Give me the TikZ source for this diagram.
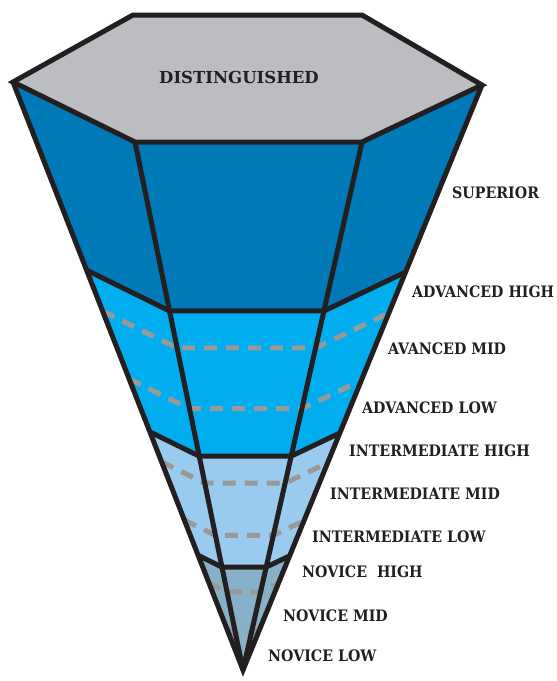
\documentclass[tikz,border=0pt]{standalone}
\usepackage{fontspec}
\setmainfont{DejaVu Serif Condensed}
\newfontfamily\widefont{DejaVu Serif}
\usetikzlibrary{calc}

\definecolor{inkline}{HTML}{231F20}
\definecolor{topgrey}{HTML}{BCBDC0}
\definecolor{supblue}{HTML}{0079B8}
\definecolor{advblue}{HTML}{00AEEF}
\definecolor{intblue}{HTML}{98CBEE}
\definecolor{novblue}{HTML}{86B1C8}
\definecolor{dashgrey}{HTML}{999999}

\begin{document}
\begin{tikzpicture}[x=1pt,y=-1pt,
  edge/.style={
  % The border:
  draw=inkline,
  line width=5pt,
  line join=miter
  },
  sublevel/.style={
  % grey dashes inside a band
  draw=dashgrey,
  line width=5pt,
  dash pattern=on 13pt off 9pt
  },
  level/.style={
  % Font
  font=\bfseries\fontsize{15.8}{18}\selectfont,
  text=inkline,
  anchor=west,
  inner sep=0pt
  }]
  \useasboundingbox (0,0) rectangle (557,681);

  % hexagon and tip
  \coordinate (L) at (13,82);
  \coordinate (TL) at (133,15);
  \coordinate (TR) at (362,15);
  \coordinate (R) at (482,85);
  \coordinate (Q) at (362,142);
  \coordinate (P) at (135,142);
  \coordinate (A) at (243,670);

  % band limits on the four edges
  \foreach \b/\t in {1/0.32, 2/0.595, 3/0.805}{
    \foreach \c in {L,P,Q,R}{
      \coordinate (\c\b) at ($(\c)!\t!(A)$);
    }
  }

  \fill[supblue] (L) -- (P) -- (Q) -- (R) -- (R1) -- (Q1) -- (P1) -- (L1) -- cycle;
  \fill[advblue] (L1) -- (P1) -- (Q1) -- (R1) -- (R2) -- (Q2) -- (P2) -- (L2) -- cycle;
  \fill[intblue] (L2) -- (P2) -- (Q2) -- (R2) -- (R3) -- (Q3) -- (P3) -- (L3) -- cycle;
  \fill[novblue] (L3) -- (P3) -- (Q3) -- (R3) -- (A) -- cycle;
  \fill[topgrey] (L) -- (TL) -- (TR) -- (R) -- (Q) -- (P) -- cycle;

  \foreach \t in {0.39,0.505,0.646,0.745,0.852,0.93}{
    \draw[sublevel] ($(L)!\t!(A)$) -- ($(P)!\t!(A)$) -- ($(Q)!\t!(A)$) -- ($(R)!\t!(A)$);
  }

  \draw[edge] (L) -- (TL) -- (TR) -- (R) -- (Q) -- (P) -- cycle;
  \draw[edge] (L) -- (A) -- (R);
  \draw[edge] (P) -- (A);
  \draw[edge] (Q) -- (A);
  \foreach \b in {1,2,3}{
    \draw[edge] (L\b) -- (P\b) -- (Q\b) -- (R\b);
  }

  \node[level, font=\widefont\bfseries\fontsize{16.5}{18}\selectfont] (dist) at (159,77) {DISTINGUISHED};
  \node[level] (sup) at (452,193) {SUPERIOR};
  \node[level] (advh) at (412,292) {ADVANCED HIGH};
  \node[level] (advm) at (388,349) {AVANCED MID};
  \node[level] (advl) at (362,408) {ADVANCED LOW};
  \node[level] (inth) at (349,451) {INTERMEDIATE HIGH};
  \node[level] (intm) at (330,494) {INTERMEDIATE MID};
  \node[level] (intl) at (312,537) {INTERMEDIATE LOW};
  \node[level] (novh) at (302,572) {NOVICE\ \ HIGH};
  \node[level] (novm) at (283,616) {NOVICE MID};
  \node[level] (novl) at (268,656) {NOVICE LOW};
\end{tikzpicture}
\end{document}
